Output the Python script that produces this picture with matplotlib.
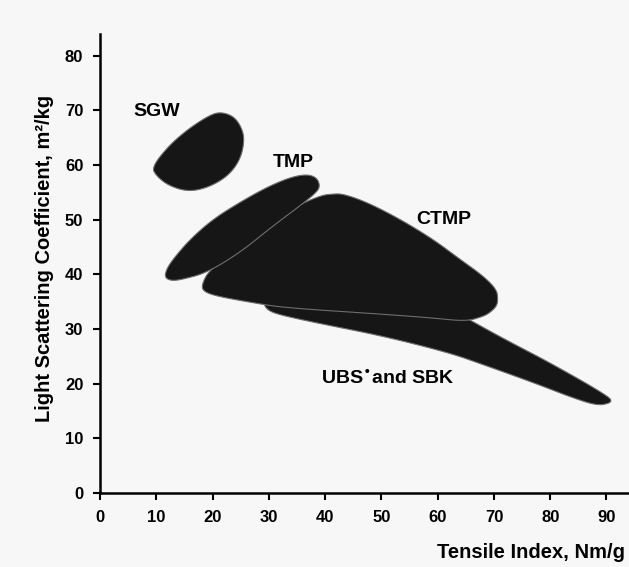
import matplotlib.pyplot as plt
import numpy as np
from matplotlib.patches import Polygon

plt.rcParams['font.family'] = ['Liberation Sans', 'DejaVu Sans']

# outline points of each region (tensile index, light scattering coefficient)
sgw_x = [9.2, 12.2, 15.7, 19.3, 21.3, 23.6, 25.0, 25.7, 25.0, 22.8, 19.3, 15.7, 12.2, 10.0]
sgw_y = [59.6, 63.5, 66.6, 69.0, 69.7, 69.0, 67.2, 64.8, 61.1, 58.0, 55.9, 55.1, 56.2, 58.0]

tmp_x = [11.5, 12.7, 14.8, 19.0, 24.9, 30.8, 35.5, 38.5, 39.1, 38.5, 36.7, 33.7, 29.6, 24.9,
         20.1, 16.0, 13.0, 11.8]
tmp_y = [39.4, 38.8, 39.1, 40.3, 44.0, 48.9, 52.5, 55.0, 56.2, 57.7, 58.3, 57.7, 55.9, 53.2,
         50.1, 46.4, 42.8, 40.9]

ctmp_x = [18.1, 19.5, 26.6, 33.7, 39.1, 41.4, 43.2, 47.4, 53.3, 59.2, 63.9, 68.1, 70.5, 70.7,
          70.5, 69.3, 68.1, 65.1, 59.2, 50.3, 32.5, 26.6, 20.7, 18.3]
ctmp_y = [38.2, 40.9, 46.4, 51.9, 54.4, 54.7, 54.7, 53.2, 50.1, 46.4, 42.8, 39.7, 37.2, 35.4,
          34.2, 33.0, 32.3, 31.4, 32.0, 32.7, 33.9, 34.9, 36.0, 36.9]

ubs_x = [29.0, 35.5, 53.3, 63.9, 66.5, 70.0, 74.0, 78.5, 82.9, 86.5, 89.4, 90.9, 90.6, 88.2,
         83.5, 79.0, 74.0, 68.0, 62.2, 50.3, 38.5, 31.4, 29.6]
ubs_y = [34.9, 35.8, 34.5, 32.7, 31.2, 29.2, 27.0, 24.6, 22.1, 20.0, 18.2, 17.1, 16.4, 16.0,
         17.6, 19.4, 21.3, 23.5, 25.6, 28.7, 31.1, 32.7, 33.6]


def smooth(xs, ys, n=3):
    # Chaikin corner cutting on a closed outline
    p = np.column_stack([xs, ys])
    for _ in range(n):
        q = np.roll(p, -1, axis=0)
        a = 0.75 * p + 0.25 * q
        b = 0.25 * p + 0.75 * q
        p = np.column_stack([a, b]).reshape(-1, 2)
    return p


fig = plt.figure(figsize=(6.29, 5.67), dpi=100)
fig.patch.set_facecolor('#f7f7f7')
ax = fig.add_axes([0.159, 0.1305, 0.841, 0.81])
ax.set_facecolor('#f7f7f7')

dark = '#161616'
for xs, ys in [(ubs_x, ubs_y), (ctmp_x, ctmp_y), (tmp_x, tmp_y), (sgw_x, sgw_y)]:
    ax.add_patch(Polygon(smooth(xs, ys), closed=True, facecolor=dark,
                         edgecolor='#6e6e6e', linewidth=0.8))

ax.text(10.0, 69.7, 'SGW', fontsize=14, fontweight='bold', ha='center', va='center')
ax.text(34.3, 60.4, 'TMP', fontsize=14, fontweight='bold', ha='center', va='center')
ax.text(61.0, 50.1, 'CTMP', fontsize=14, fontweight='bold', ha='center', va='center')
ax.text(51.2, 21.1, r'UBS$^{\bullet}$and SBK', fontsize=14, fontweight='bold',
        ha='center', va='center')

ax.set_xlim(0, 94)
ax.set_ylim(0, 84)
ax.set_xticks(range(0, 91, 10))
ax.set_yticks(range(0, 81, 10))
ax.tick_params(axis='both', labelsize=12, width=1.5, length=5, direction='out', pad=7)
for lab in ax.get_xticklabels() + ax.get_yticklabels():
    lab.set_fontweight('bold')
ax.spines['top'].set_visible(False)
ax.spines['right'].set_visible(False)
ax.spines['left'].set_linewidth(1.8)
ax.spines['bottom'].set_linewidth(1.8)

fig.text(0.0715, 0.545, 'Light Scattering Coefficient, m²/kg', rotation=90,
         fontsize=14.5, fontweight='bold', ha='center', va='center')
fig.text(0.994, 0.025, 'Tensile Index, Nm/g', fontsize=14.5, fontweight='bold',
         ha='right', va='center')

plt.savefig('out.png', dpi=100, facecolor=fig.get_facecolor())
